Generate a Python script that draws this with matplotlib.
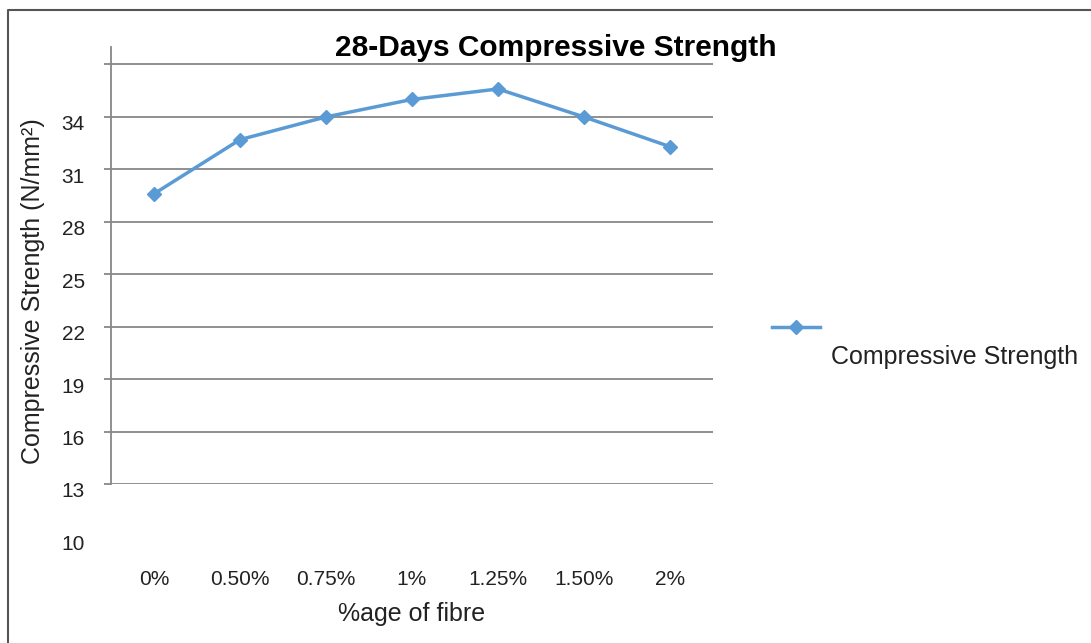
import matplotlib
matplotlib.use("Agg")
import matplotlib.pyplot as plt
from matplotlib.lines import Line2D
from matplotlib.transforms import offset_copy

plt.rcParams['font.family'] = ['Liberation Sans', 'DejaVu Sans']

fibre = ['0%', '0.50%', '0.75%', '1%', '1.25%', '1.50%', '2%']
strength = [29.6, 32.7, 34.0, 35.0, 35.6, 34.0, 32.3]
grid_vals = [13, 16, 19, 22, 25, 28, 31, 34, 37]
label_vals = [10, 13, 16, 19, 22, 25, 28, 31, 34]

blue = '#5B9BD5'
gray = '#878787'

fig = plt.figure(figsize=(10.91, 6.43), dpi=100)
ax = fig.add_axes([0.1017, 0.2473, 0.5518, 0.6796])

x = list(range(len(fibre)))
ax.plot(x, strength, color=blue, lw=2.5, marker='D', ms=7,
        label='Compressive Strength')

ax.set_xlim(-0.5, len(fibre) - 0.5)
ax.set_ylim(13, 38)
ax.set_yticks(grid_vals)
ax.yaxis.grid(True, color=gray, lw=1.3)
ax.set_axisbelow(True)
ax.tick_params(axis='y', length=5, width=1.3, color=gray, labelleft=False)

ax.set_xticks(x)
ax.set_xticklabels(fibre, fontsize=15, color='#222222')
ax.tick_params(axis='x', length=0, pad=62)

for s in ['top', 'right', 'bottom']:
    ax.spines[s].set_visible(False)
ax.spines['left'].set_color(gray)
ax.spines['left'].set_linewidth(1.3)

# value labels sit a little under their gridlines, as in the Excel export
lab_tr = offset_copy(ax.get_yaxis_transform(), fig=fig, x=-26, y=-8, units='dots')
for v in label_vals:
    ax.text(0, v, str(v), transform=lab_tr, ha='right', va='center',
            fontsize=15, color='#222222', clip_on=False)

ax.set_xlabel('%age of fibre', fontsize=18, color='#222222', labelpad=9)
fig.text(33 / 1091, 1 - 291 / 643, 'Compressive Strength (N/mm²)',
         rotation=90, ha='center', va='center', fontsize=18, color='#222222')
fig.text(556 / 1091, 1 - 48 / 643, '28-Days Compressive Strength',
         ha='center', va='center', fontsize=21.5, fontweight='bold')

# legend entry
fig.add_artist(Line2D([772 / 1091, 820 / 1091], [1 - 327 / 643] * 2,
                      color=blue, lw=2.5, transform=fig.transFigure))
fig.add_artist(Line2D([796 / 1091], [1 - 327 / 643], color=blue, marker='D',
                      ms=7, transform=fig.transFigure))
fig.text(831 / 1091, 1 - 357 / 643, 'Compressive Strength',
         ha='left', va='center', fontsize=18, color='#222222')

# outer chart frame
fig.add_artist(Line2D([8 / 1091, 8 / 1091, 1.0], [0.0, 1 - 10 / 643, 1 - 10 / 643],
                      color='#555555', lw=1.5, transform=fig.transFigure))

fig.savefig('out.png', dpi=100)
